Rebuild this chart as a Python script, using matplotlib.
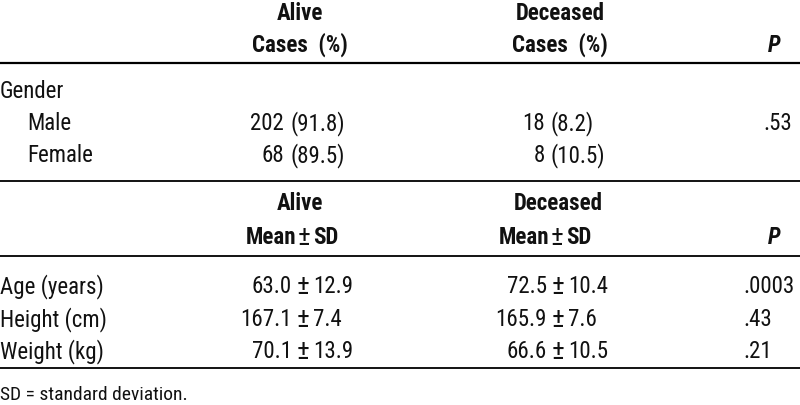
import matplotlib.pyplot as plt

# table content
gender_labels = ["Male", "Female"]
gender_alive_n = ["202", "68"]
gender_alive_pct = ["(91.8)", "(89.5)"]
gender_dead_n = ["18", "8"]
gender_dead_pct = ["(8.2)", "(10.5)"]
gender_p = [".53", ""]

meas_labels = ["Age (years)", "Height (cm)", "Weight (kg)"]
alive_mean = ["63.0", "167.1", "70.1"]
alive_sd = ["12.9", "7.4", "13.9"]
dead_mean = ["72.5", "165.9", "66.6"]
dead_sd = ["10.4", "7.6", "10.5"]
meas_p = [".0003", ".43", ".21"]

footnote = "SD = standard deviation."

plt.rcParams["font.family"] = ["Roboto Condensed", "DejaVu Sans"]
FS = 16.5
COL = "#111111"

fig = plt.figure(figsize=(8, 4.06), dpi=100)
ax = fig.add_axes([0, 0, 1, 1])
ax.set_xlim(0, 800)
ax.set_ylim(406, 0)
ax.axis("off")


def t(x, y, s, ha="left", fs=FS, **kw):
    ax.text(x, y, s, ha=ha, va="center", fontsize=fs, color=COL, **kw)


def hline(y, lw):
    ax.plot([0, 800], [y, y], color="black", lw=lw, solid_capstyle="butt")


# header 1
t(300, 13, "Alive", ha="center", weight="bold")
t(300, 45, "Cases  (%)", ha="center", weight="bold")
t(560, 13, "Deceased", ha="center", weight="bold")
t(560, 45, "Cases  (%)", ha="center", weight="bold")
t(781, 45, "P", ha="right", weight="bold", style="italic")
hline(64, 1.6)

t(0, 91, "Gender")
rows_y = [124, 156]
for i, y in enumerate(rows_y):
    t(27, y, gender_labels[i])
    t(284, y, gender_alive_n[i], ha="right")
    t(290, y, gender_alive_pct[i])
    t(545, y, gender_dead_n[i], ha="right")
    t(551, y, gender_dead_pct[i])
    t(763, y, gender_p[i])
hline(182, 1.3)

# header 2
t(300, 204, "Alive", ha="center", weight="bold")
t(296, 238, "Mean", ha="right", weight="bold")
t(304, 238, "\u00b1", ha="center", fs=FS + 3)
t(313, 238, "SD", weight="bold")
t(558, 204, "Deceased", ha="center", weight="bold")
t(549, 238, "Mean", ha="right", weight="bold")
t(557, 238, "\u00b1", ha="center", fs=FS + 3)
t(566, 238, "SD", weight="bold")
t(781, 238, "P", ha="right", weight="bold", style="italic")
hline(257, 1.3)

meas_y = [287, 320, 352]
for i, y in enumerate(meas_y):
    t(0, y, meas_labels[i])
    t(292, y, alive_mean[i], ha="right")
    t(303, y, "\u00b1", ha="center", fs=FS + 3)
    t(313, y, alive_sd[i])
    t(547, y, dead_mean[i], ha="right")
    t(558, y, "\u00b1", ha="center", fs=FS + 3)
    t(568, y, dead_sd[i])
    t(743, y, meas_p[i])
hline(369, 1.3)

ax.text(0, 395, footnote, ha="left", va="center", fontsize=14, color=COL)

fig.savefig("out.png", dpi=100)
